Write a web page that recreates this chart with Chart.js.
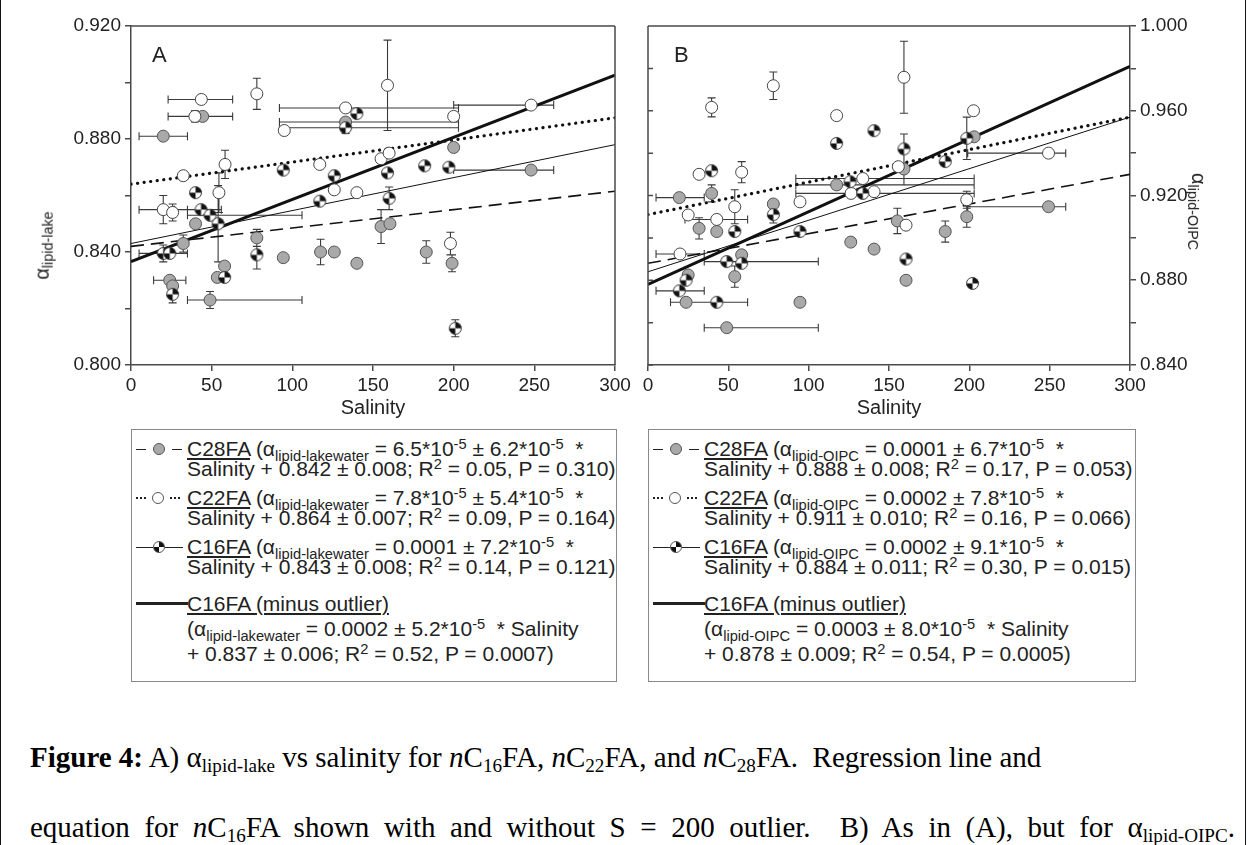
<!DOCTYPE html>
<html>
<head>
<meta charset="utf-8">
<script src="https://cdn.jsdelivr.net/npm/chart.js@4.4.1/dist/chart.umd.min.js"></script>
<style>
  body { margin: 0; background: #fff; }
  #page { position: relative; width: 1248px; height: 845px; overflow: hidden; font-family: Arial, "Liberation Sans", sans-serif; color: #222; }
  .edge { position: absolute; top: 0; bottom: 0; width: 0; border-left: 1.5px solid #111; }
  canvas { position: absolute; top: 0; }
  .ytitle { position: absolute; font-size: 20px; white-space: nowrap; }
  .ytitle sub { font-size: 0.72em; vertical-align: -0.3em; line-height: 0; }
  .panel-tag { position: absolute; font-size: 22px; }
  .xtitle { position: absolute; font-size: 20px; transform: translateX(-50%); }
  .legend { position: absolute; border: 1.5px solid #888; box-sizing: border-box; font-size: 21px; line-height: 20px; }
  .entry { position: relative; padding-left: 55px; margin-top: 9px; white-space: nowrap; }
  .entry sub { font-size: 0.7em; vertical-align: -0.35em; line-height: 0; }
  .entry sup { font-size: 0.7em; vertical-align: 0.45em; line-height: 0; }
  .sw { position: absolute; left: 4px; top: 10px; width: 52px; height: 0; display: flex; align-items: center; }
  .seg { display: block; height: 0; border-top: 1.5px solid #222; }
  .dotseg { display: block; height: 0; border-top: 2.5px dotted #222; }
  .mk { display: block; width: 12px; height: 12px; border-radius: 50%; border: 1px solid #555; box-sizing: border-box; flex: none; }
  .caption { position: absolute; left: 30px; font-family: "Liberation Serif", "Times New Roman", serif; font-size: 29px; line-height: 70px; color: #000; white-space: nowrap; }
  .caption sub { font-size: 0.66em; vertical-align: -0.25em; line-height: 0; }
</style>
</head>
<body>
<div id="page">
  <div class="edge" style="left:0"></div>
  <div class="edge" style="left:1245px"></div>
  <canvas id="chartA" width="640" height="400" style="left:0"></canvas>
  <canvas id="chartB" width="618" height="400" style="left:630px"></canvas>

  <div class="panel-tag" style="left:152px;top:42px">A</div>
  <div class="panel-tag" style="left:674px;top:42px">B</div>

  <div class="ytitle" style="left:8px;top:234px;transform:rotate(-90deg)">α<sub>lipid-lake</sub></div>
  <div class="ytitle" style="left:1160px;top:200px;transform:rotate(90deg)">α<sub>lipid-OIPC</sub></div>

  <div class="xtitle" style="left:373px;top:396px">Salinity</div>
  <div class="xtitle" style="left:889px;top:396px">Salinity</div>

  <div class="legend" style="left:131px;top:429px;width:486px;height:253px">
    <div class="entry"><span class="sw"><span class="seg" style="width:10px"></span><span style="width:7px"></span><span class="mk" style="background:#a9a9a9"></span><span style="width:7px"></span><span class="seg" style="width:10px"></span></span><u>C28FA</u> (α<sub>lipid-lakewater</sub> = 6.5*10<sup>-5</sup> ± 6.2*10<sup>-5</sup> &nbsp;*<br>Salinity + 0.842 ± 0.008; R<sup>2</sup> = 0.05, P = 0.310)</div>
    <div class="entry"><span class="sw"><span class="dotseg" style="width:10px"></span><span style="width:6px"></span><span class="mk" style="background:#fff"></span><span style="width:6px"></span><span class="dotseg" style="width:10px"></span></span><u>C22FA</u> (α<sub>lipid-lakewater</sub> = 7.8*10<sup>-5</sup> ± 5.4*10<sup>-5</sup> &nbsp;*<br>Salinity + 0.864 ± 0.007; R<sup>2</sup> = 0.09, P = 0.164)</div>
    <div class="entry"><span class="sw"><span class="seg" style="width:17px;border-top-width:1px"></span><span class="mk" style="background:conic-gradient(#111 0 90deg,#fff 90deg 180deg,#111 180deg 270deg,#fff 270deg)"></span><span class="seg" style="width:18px;border-top-width:1px"></span></span><u>C16FA</u> (α<sub>lipid-lakewater</sub> = 0.0001 ± 7.2*10<sup>-5</sup> &nbsp;*<br>Salinity + 0.843 ± 0.008; R<sup>2</sup> = 0.14, P = 0.121)</div>
    <div class="entry" style="margin-top:14px;line-height:25px"><span class="sw" style="top:12px"><span class="seg" style="width:52px;border-top-width:3px"></span></span><u>C16FA (minus outlier)</u><br>(α<sub>lipid-lakewater</sub> = 0.0002 ± 5.2*10<sup>-5</sup> &nbsp;* Salinity<br>+ 0.837 ± 0.006; R<sup>2</sup> = 0.52, P = 0.0007)</div>
  </div>

  <div class="legend" style="left:648px;top:429px;width:488px;height:253px">
    <div class="entry"><span class="sw"><span class="seg" style="width:10px"></span><span style="width:7px"></span><span class="mk" style="background:#a9a9a9"></span><span style="width:7px"></span><span class="seg" style="width:10px"></span></span><u>C28FA</u> (α<sub>lipid-OIPC</sub> = 0.0001 ± 6.7*10<sup>-5</sup> &nbsp;*<br>Salinity + 0.888 ± 0.008; R<sup>2</sup> = 0.17, P = 0.053)</div>
    <div class="entry"><span class="sw"><span class="dotseg" style="width:10px"></span><span style="width:6px"></span><span class="mk" style="background:#fff"></span><span style="width:6px"></span><span class="dotseg" style="width:10px"></span></span><u>C22FA</u> (α<sub>lipid-OIPC</sub> = 0.0002 ± 7.8*10<sup>-5</sup> &nbsp;*<br>Salinity + 0.911 ± 0.010; R<sup>2</sup> = 0.16, P = 0.066)</div>
    <div class="entry"><span class="sw"><span class="seg" style="width:17px;border-top-width:1px"></span><span class="mk" style="background:conic-gradient(#111 0 90deg,#fff 90deg 180deg,#111 180deg 270deg,#fff 270deg)"></span><span class="seg" style="width:18px;border-top-width:1px"></span></span><u>C16FA</u> (α<sub>lipid-OIPC</sub> = 0.0002 ± 9.1*10<sup>-5</sup> &nbsp;*<br>Salinity + 0.884 ± 0.011; R<sup>2</sup> = 0.30, P = 0.015)</div>
    <div class="entry" style="margin-top:14px;line-height:25px"><span class="sw" style="top:12px"><span class="seg" style="width:52px;border-top-width:3px"></span></span><u>C16FA (minus outlier)</u><br>(α<sub>lipid-OIPC</sub> = 0.0003 ± 8.0*10<sup>-5</sup> &nbsp;* Salinity<br>+ 0.878 ± 0.009; R<sup>2</sup> = 0.54, P = 0.0005)</div>
  </div>

  <div class="caption" style="top:722px"><b>Figure 4:</b> A) α<sub>lipid-lake</sub> vs salinity for <i>n</i>C<sub>16</sub>FA, <i>n</i>C<sub>22</sub>FA, and <i>n</i>C<sub>28</sub>FA.&nbsp; Regression line and<br><span style="word-spacing:7.3px">equation for <i>n</i>C<sub>16</sub>FA shown with and without S = 200 outlier.&nbsp; B) As in (A), but for α<sub>lipid-OIPC</sub>.</span></div>
</div>

<script>
// --- tick values ---
const salinityTicks = [0, 50, 100, 150, 200, 250, 300];
const alphaTicksA = [0.80, 0.82, 0.84, 0.86, 0.88, 0.90, 0.92];
const alphaTicksB = [0.84, 0.86, 0.88, 0.90, 0.92, 0.94, 0.96, 0.98, 1.00];

// --- panel A: alpha lipid-lake ---
const a28Sal = [20, 44.4, 40, 32.4, 78, 58, 53.5, 94.4, 117.5, 126, 140, 155, 160.5, 183, 24, 25.8, 49, 133, 200, 199, 248];
const a28Val = [0.881, 0.888, 0.850, 0.843, 0.845, 0.835, 0.831, 0.838, 0.840, 0.840, 0.836, 0.849, 0.850, 0.840, 0.830, 0.828, 0.823, 0.886, 0.877, 0.836, 0.869];
const a28XLo = [5, null, null, null, null, null, null, null, null, null, null, null, null, null, 14, null, 35, 92, null, null, 200];
const a28XHi = [35, null, null, null, null, null, null, null, null, null, null, null, null, null, 34, null, 106, 203, null, null, 262];
const a28YErr = [null, null, null, 0.003, 0.003, null, null, null, 0.0045, null, null, 0.006, null, 0.004, null, null, 0.003, null, null, 0.003, null];

const a22Sal = [43.6, 39.6, 78, 95, 133, 159, 32.4, 58.3, 117, 126, 140, 155, 160, 54.5, 20, 25.8, 200, 248, 198];
const a22Val = [0.894, 0.888, 0.896, 0.883, 0.891, 0.899, 0.867, 0.871, 0.871, 0.862, 0.861, 0.873, 0.875, 0.861, 0.855, 0.854, 0.888, 0.892, 0.843];
const a22XLo = [23, 23, null, null, 92, null, null, null, null, null, null, null, null, null, 5, null, null, 200, null];
const a22XHi = [63, 63, null, null, 203, null, null, null, null, null, null, null, null, null, 35, null, null, 262, null];
const a22YErr = [null, 0.002, 0.0055, null, null, 0.016, null, 0.005, null, null, null, null, null, 0.007, 0.005, 0.003, null, null, 0.004];

const a16Sal = [140, 133, 94.4, 126, 159, 160, 117, 40, 182, 43.4, 49, 54, 20, 24, 78, 58, 25.8, 197, 201];
const a16Val = [0.889, 0.884, 0.869, 0.867, 0.868, 0.859, 0.858, 0.861, 0.8705, 0.855, 0.853, 0.850, 0.8395, 0.8395, 0.839, 0.831, 0.825, 0.870, 0.813];
const a16XLo = [null, 92, null, null, null, null, null, null, null, 27, 35, null, 5, null, null, null, null, null, null];
const a16XHi = [null, 203, null, null, null, null, null, null, null, 56, 106, null, 35, null, null, null, null, null, null];
const a16YErr = [null, 0.002, null, null, null, 0.004, null, null, null, null, null, 0.0135, 0.003, null, 0.005, null, 0.003, null, 0.003];

// regression lines, endpoints at salinity 0 and 300
const lineSal = [0, 300];
const a28Fit = [0.842, 0.8615];
const a22Fit = [0.864, 0.8875];
const a16Fit = [0.843, 0.878];
const a16FitNoOutlier = [0.8366, 0.9026];

// --- panel B: alpha lipid-OIPC ---
const b28Sal = [19.5, 39.6, 78, 117.4, 159.3, 203, 31.8, 42.8, 126.2, 140.7, 155.2, 185, 198.4, 249.3, 160.6, 58.3, 54, 25, 23.7, 94.6, 49];
const b28Val = [0.919, 0.921, 0.916, 0.925, 0.9325, 0.9477, 0.9045, 0.903, 0.898, 0.8947, 0.908, 0.903, 0.910, 0.9147, 0.880, 0.892, 0.8817, 0.8825, 0.8696, 0.8696, 0.8576];
const b28XLo = [5, null, null, 92, null, null, null, null, null, null, null, null, null, 199, null, null, null, null, 14, null, 35];
const b28XHi = [35, null, null, 203, null, null, null, null, null, null, null, null, null, 260, null, null, null, null, 62, null, 106];
const b28YErr = [null, 0.004, null, null, 0.0075, null, 0.005, null, null, null, 0.006, 0.005, 0.005, null, null, null, 0.005, null, null, null, null];

const b22Sal = [39.6, 78, 159.3, 117.4, 31.8, 58.3, 54, 94.6, 133.7, 126.4, 140.7, 155.8, 25, 42.8, 160.6, 19.9, 202.6, 249.3, 198.4];
const b22Val = [0.9616, 0.9718, 0.9758, 0.9577, 0.930, 0.931, 0.9147, 0.917, 0.928, 0.921, 0.9218, 0.9336, 0.9108, 0.9087, 0.906, 0.8924, 0.960, 0.940, 0.918];
const b22XLo = [null, null, null, null, null, null, null, null, 92, null, null, null, null, 23, null, 5, null, 199, null];
const b22XHi = [null, null, null, null, null, null, null, null, 203, null, null, null, null, 62, null, 35, null, 260, null];
const b22YErr = [0.0045, 0.0065, 0.017, null, null, 0.005, 0.008, null, null, null, null, null, null, null, null, null, null, null, 0.004];

const b16Sal = [117.4, 140.7, 159.3, 185, 39.6, 78, 125.8, 133.7, 54, 94.6, 160.6, 49, 58.3, 23.7, 19.5, 42.8, 198.4, 202];
const b16Val = [0.9446, 0.9506, 0.942, 0.936, 0.9317, 0.911, 0.9265, 0.921, 0.903, 0.903, 0.890, 0.8888, 0.888, 0.880, 0.875, 0.8696, 0.947, 0.8785];
const b16XLo = [null, null, null, null, null, null, null, 92, null, null, null, 35, null, null, 5, null, null, null];
const b16XHi = [null, null, null, null, null, null, null, 203, null, null, null, 106, null, null, 35, null, null, null];
const b16YErr = [null, null, 0.007, null, null, 0.004, null, null, null, null, null, null, null, null, null, null, 0.010, null];

const b28Fit = [0.888, 0.930];
const b22Fit = [0.911, 0.957];
const b16Fit = [0.884, 0.957];
const b16FitNoOutlier = [0.878, 0.981];

const AXIS_COLOR = "#4a4a4a";
const ERR_COLOR = "#3a3a3a";
const GRAY_FILL = "#a9a9a9";
const MARKER_R = 6;

function points(sal, val, xLo, xHi, yErr) {
  return sal.map((s, i) => ({ x: s, y: val[i], xLo: xLo[i], xHi: xHi[i], yErr: yErr[i] }));
}

function fitPoints(fit) {
  return lineSal.map((s, i) => ({ x: s, y: fit[i] }));
}

function quarterMarker(r) {
  const c = document.createElement("canvas");
  const size = Math.ceil(2 * r + 3);
  c.width = c.height = size;
  const g = c.getContext("2d");
  const m = size / 2;
  g.fillStyle = "#fff";
  g.beginPath(); g.arc(m, m, r, 0, Math.PI * 2); g.fill();
  g.fillStyle = "#111";
  g.beginPath(); g.moveTo(m, m); g.arc(m, m, r, -Math.PI / 2, 0); g.closePath(); g.fill();
  g.beginPath(); g.moveTo(m, m); g.arc(m, m, r, Math.PI / 2, Math.PI); g.closePath(); g.fill();
  g.strokeStyle = "#333"; g.lineWidth = 1;
  g.beginPath(); g.arc(m, m, r, 0, Math.PI * 2); g.stroke();
  return c;
}

const c16Marker = quarterMarker(MARKER_R);

// error bars drawn behind the markers
const errorBarPlugin = {
  id: "errorBars",
  beforeDatasetsDraw(chart) {
    const { ctx, scales: { x, y } } = chart;
    const cap = 4;
    ctx.save();
    ctx.strokeStyle = ERR_COLOR;
    ctx.lineWidth = 1.1;
    ctx.beginPath();
    chart.data.datasets.forEach(ds => {
      ds.data.forEach(p => {
        const px = x.getPixelForValue(p.x);
        const py = y.getPixelForValue(p.y);
        if (p.xLo != null) {
          const l = x.getPixelForValue(p.xLo), r = x.getPixelForValue(p.xHi);
          ctx.moveTo(l, py); ctx.lineTo(r, py);
          ctx.moveTo(l, py - cap); ctx.lineTo(l, py + cap);
          ctx.moveTo(r, py - cap); ctx.lineTo(r, py + cap);
        }
        if (p.yErr != null) {
          const t = y.getPixelForValue(p.y + p.yErr), b = y.getPixelForValue(p.y - p.yErr);
          ctx.moveTo(px, t); ctx.lineTo(px, b);
          ctx.moveTo(px - cap, t); ctx.lineTo(px + cap, t);
          ctx.moveTo(px - cap, b); ctx.lineTo(px + cap, b);
        }
      });
    });
    ctx.stroke();
    ctx.restore();
  },
};

// top border plus the mirrored side with inward ticks
const framePlugin = {
  id: "frame",
  afterDraw(chart, args, opts) {
    const { ctx, chartArea: a } = chart;
    const ys = chart.scales.y;
    const side = opts.side === "left" ? a.left : a.right;
    const dir = opts.side === "left" ? 1 : -1;
    ctx.save();
    ctx.strokeStyle = AXIS_COLOR;
    ctx.lineWidth = 1.5;
    ctx.beginPath();
    ctx.moveTo(a.left, a.top); ctx.lineTo(a.right, a.top);
    ctx.moveTo(side, a.top); ctx.lineTo(side, a.bottom);
    if (opts.inwardTicks) {
      ys.ticks.forEach(t => {
        const py = ys.getPixelForValue(t.value);
        ctx.moveTo(side, py); ctx.lineTo(side + dir * 5, py);
      });
    }
    ctx.stroke();
    ctx.restore();
  },
};

function lineDataset(fit, style) {
  return Object.assign({
    type: "line",
    data: fitPoints(fit),
    borderColor: "#111",
    pointRadius: 0,
    fill: false,
    order: 10,
  }, style);
}

function markerDatasets(gray, open, quarter) {
  return [
    { data: gray, pointStyle: "circle", radius: MARKER_R, backgroundColor: GRAY_FILL, borderColor: "#555", borderWidth: 1, order: 3 },
    { data: open, pointStyle: "circle", radius: MARKER_R, backgroundColor: "#fff", borderColor: "#444", borderWidth: 1, order: 2 },
    { data: quarter, pointStyle: c16Marker, radius: MARKER_R, order: 1 },
  ];
}

function fitLines(f28, f22, f16, f16b) {
  return [
    lineDataset(f28, { borderWidth: 1.6, borderDash: [13, 7] }),
    lineDataset(f22, { borderWidth: 3.2, borderDash: [0.1, 6.5], borderCapStyle: "round" }),
    lineDataset(f16, { borderWidth: 1 }),
    lineDataset(f16b, { borderWidth: 3 }),
  ];
}

function tickFont() {
  return { family: "Arial, 'Liberation Sans', sans-serif", size: 19 };
}

function alphaLabel(value) {
  const milli = Math.round(value * 1000);
  return milli % 40 === 0 ? value.toFixed(3) : "";
}

function buildChart(id, cfg) {
  return new Chart(document.getElementById(id), {
    type: "scatter",
    data: { datasets: [...fitLines(...cfg.fits), ...markerDatasets(...cfg.markers)] },
    options: {
      responsive: false,
      animation: false,
      devicePixelRatio: 1,
      layout: { padding: cfg.padding },
      plugins: {
        legend: { display: false },
        tooltip: { enabled: false },
        frame: { side: cfg.frameSide, inwardTicks: cfg.inwardTicks },
      },
      scales: {
        x: {
          type: "linear",
          min: 0,
          max: 300,
          afterBuildTicks: scale => { scale.ticks = salinityTicks.map(v => ({ value: v })); },
          afterFit: scale => { scale.height = 35; },
          border: { display: true, color: AXIS_COLOR, width: 1.5 },
          grid: { drawOnChartArea: false, drawTicks: true, tickLength: 6, color: AXIS_COLOR, lineWidth: 1.5 },
          ticks: { color: "#222", font: tickFont(), padding: 3, maxRotation: 0, autoSkip: false },
        },
        y: {
          type: "linear",
          position: cfg.yPosition,
          min: cfg.yTicks[0],
          max: cfg.yTicks[cfg.yTicks.length - 1],
          afterBuildTicks: scale => { scale.ticks = cfg.yTicks.map(v => ({ value: v })); },
          afterFit: scale => { scale.width = cfg.yWidth; },
          border: { display: true, color: AXIS_COLOR, width: 1.5 },
          grid: { drawOnChartArea: false, drawTicks: true, tickLength: 6, color: AXIS_COLOR, lineWidth: 1.5 },
          ticks: { color: "#222", font: tickFont(), padding: 4, autoSkip: false, callback: alphaLabel },
        },
      },
    },
    plugins: [errorBarPlugin, framePlugin],
  });
}

buildChart("chartA", {
  fits: [a28Fit, a22Fit, a16Fit, a16FitNoOutlier],
  markers: [
    points(a28Sal, a28Val, a28XLo, a28XHi, a28YErr),
    points(a22Sal, a22Val, a22XLo, a22XHi, a22YErr),
    points(a16Sal, a16Val, a16XLo, a16XHi, a16YErr),
  ],
  padding: { left: 0, right: 25, top: 26, bottom: 0 },
  yPosition: "left",
  yWidth: 131,
  yTicks: alphaTicksA,
  frameSide: "right",
  inwardTicks: false,
});

buildChart("chartB", {
  fits: [b28Fit, b22Fit, b16Fit, b16FitNoOutlier],
  markers: [
    points(b28Sal, b28Val, b28XLo, b28XHi, b28YErr),
    points(b22Sal, b22Val, b22XLo, b22XHi, b22YErr),
    points(b16Sal, b16Val, b16XLo, b16XHi, b16YErr),
  ],
  padding: { left: 18, right: 0, top: 26, bottom: 0 },
  yPosition: "right",
  yWidth: 118,
  yTicks: alphaTicksB,
  frameSide: "left",
  inwardTicks: true,
});
</script>
</body>
</html>
